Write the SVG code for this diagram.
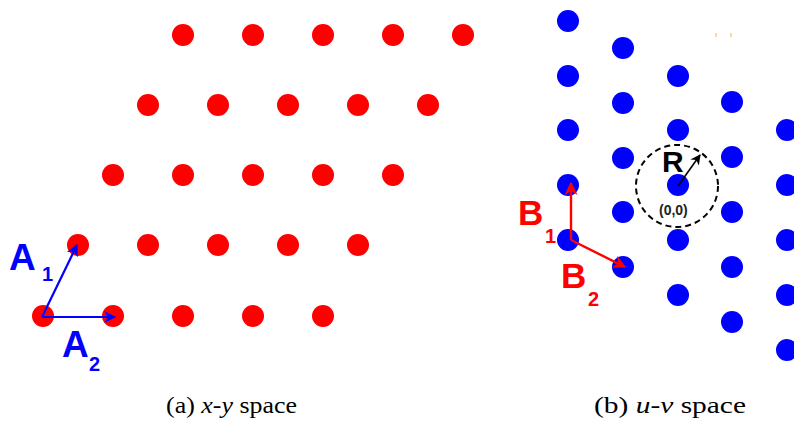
<svg xmlns="http://www.w3.org/2000/svg" width="794" height="425" viewBox="0 0 794 425">
<style>
.r{fill:#ff0000}
.b{fill:#0000ff}
.lbl{font-family:"Liberation Sans",Arial,sans-serif;font-weight:bold}
.cap{font-family:"Liberation Serif","Times New Roman",serif;font-size:23px;fill:#000}
</style>
<defs>
<marker id="ab" viewBox="0 0 10 10" refX="9" refY="5" markerWidth="5.5" markerHeight="5.5" orient="auto" markerUnits="strokeWidth"><path d="M0,0 L10,5 L0,10 L3,5 z" fill="#0000ff"/></marker>
<marker id="ar" viewBox="0 0 10 10" refX="9" refY="5" markerWidth="5.5" markerHeight="5.5" orient="auto" markerUnits="strokeWidth"><path d="M0,0 L10,5 L0,10 L3,5 z" fill="#ff0000"/></marker>
<marker id="ak" viewBox="0 0 10 10" refX="9" refY="5" markerWidth="6.5" markerHeight="6.5" orient="auto" markerUnits="strokeWidth"><path d="M0,0 L10,5 L0,10 L3,5 z" fill="#000"/></marker>
</defs>
<rect width="794" height="425" fill="#fff"/>
<g id="red-lattice">
<circle class="r" cx="183" cy="35" r="11"/><circle class="r" cx="253" cy="35" r="11"/><circle class="r" cx="323" cy="35" r="11"/><circle class="r" cx="393" cy="35" r="11"/><circle class="r" cx="463" cy="35" r="11"/>
<circle class="r" cx="148" cy="105" r="11"/><circle class="r" cx="218" cy="105" r="11"/><circle class="r" cx="288" cy="105" r="11"/><circle class="r" cx="358" cy="105" r="11"/><circle class="r" cx="428" cy="105" r="11"/>
<circle class="r" cx="113" cy="175" r="11"/><circle class="r" cx="183" cy="175" r="11"/><circle class="r" cx="253" cy="175" r="11"/><circle class="r" cx="323" cy="175" r="11"/><circle class="r" cx="393" cy="175" r="11"/>
<circle class="r" cx="78" cy="245" r="11"/><circle class="r" cx="148" cy="245" r="11"/><circle class="r" cx="218" cy="245" r="11"/><circle class="r" cx="288" cy="245" r="11"/><circle class="r" cx="358" cy="245" r="11"/>
<circle class="r" cx="43" cy="316" r="11"/><circle class="r" cx="113" cy="316" r="11"/><circle class="r" cx="183" cy="316" r="11"/><circle class="r" cx="253" cy="316" r="11"/><circle class="r" cx="323" cy="316" r="11"/>
</g>
<g id="blue-lattice">
<circle class="b" cx="568" cy="21" r="11"/><circle class="b" cx="568" cy="76" r="11"/><circle class="b" cx="568" cy="130" r="11"/><circle class="b" cx="568" cy="185" r="11"/><circle class="b" cx="568" cy="240" r="11"/>
<circle class="b" cx="623" cy="48" r="11"/><circle class="b" cx="623" cy="103" r="11"/><circle class="b" cx="623" cy="158" r="11"/><circle class="b" cx="623" cy="212" r="11"/><circle class="b" cx="623" cy="267" r="11"/>
<circle class="b" cx="678" cy="76" r="11"/><circle class="b" cx="678" cy="130" r="11"/><circle class="b" cx="678" cy="185" r="11"/><circle class="b" cx="678" cy="240" r="11"/><circle class="b" cx="678" cy="295" r="11"/>
<circle class="b" cx="732" cy="102" r="11"/><circle class="b" cx="732" cy="157" r="11"/><circle class="b" cx="732" cy="212" r="11"/><circle class="b" cx="732" cy="267" r="11"/><circle class="b" cx="732" cy="322" r="11"/>
<circle class="b" cx="787" cy="130" r="11"/><circle class="b" cx="787" cy="185" r="11"/><circle class="b" cx="787" cy="240" r="11"/><circle class="b" cx="787" cy="295" r="11"/><circle class="b" cx="787" cy="350" r="11"/>
</g>
<g id="region-R">
<circle cx="677" cy="186" r="41" fill="none" stroke="#000" stroke-width="2" stroke-dasharray="6,4"/>
</g>
<g id="connectors">
<line x1="42" y1="317" x2="77" y2="245" stroke="#0000ff" stroke-width="2.2" marker-end="url(#ab)"/>
<line x1="42" y1="317" x2="115" y2="317" stroke="#0000ff" stroke-width="2.2" marker-end="url(#ab)"/>
<line x1="571" y1="240" x2="571" y2="183" stroke="#ff0000" stroke-width="2.4" marker-end="url(#ar)"/>
<line x1="571" y1="240" x2="625" y2="267" stroke="#ff0000" stroke-width="2.4" marker-end="url(#ar)"/>
<line x1="678" y1="186" x2="700" y2="155" stroke="#000" stroke-width="1.6" marker-end="url(#ak)"/>
</g>
<g id="labels">
<text class="lbl" x="9" y="270" font-size="37" fill="#0000ff">A</text>
<text class="lbl" x="42" y="281" font-size="20" fill="#0000ff">1</text>
<text class="lbl" x="62" y="357" font-size="37" fill="#0000ff">A</text>
<text class="lbl" x="89" y="371" font-size="20" fill="#0000ff">2</text>
<text class="lbl" x="518" y="225" font-size="35" fill="#ff0000">B</text>
<text class="lbl" x="545" y="243" font-size="20" fill="#ff0000">1</text>
<text class="lbl" x="561" y="288" font-size="35" fill="#ff0000">B</text>
<text class="lbl" x="588" y="306" font-size="20" fill="#ff0000">2</text>
<text class="lbl" x="662" y="172" font-size="30" fill="#000">R</text>
<text class="lbl" x="659" y="215" font-size="14" fill="#222">(0,0)</text>
</g>
<g id="marks">
<rect x="715.5" y="33" width="1" height="4" fill="#f5b040"/>
<rect x="730.5" y="33" width="1" height="4" fill="#f5b040"/>
</g>
<g id="captions">
<text class="cap" x="166" y="413" textLength="131" lengthAdjust="spacingAndGlyphs">(a) <tspan font-style="italic">x</tspan>-<tspan font-style="italic">y</tspan> space</text>
<text class="cap" x="594" y="413" textLength="152" lengthAdjust="spacingAndGlyphs">(b) <tspan font-style="italic">u</tspan>-<tspan font-style="italic">v</tspan> space</text>
</g>
</svg>
